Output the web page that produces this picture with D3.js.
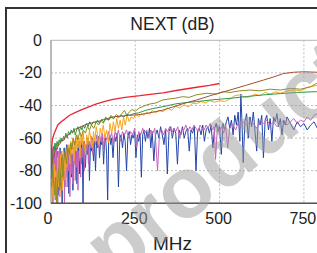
<!DOCTYPE html>
<html><head><meta charset="utf-8">
<script src="https://cdn.jsdelivr.net/npm/d3@7"></script>
<style>html,body{margin:0;padding:0;background:#fff;overflow:hidden}svg{display:block}</style>
</head><body>
<script>
const title = "NEXT (dB)";
const xLabel = "MHz";
const xTicks = [0, 250, 500, 750];
const yTicks = [0, -20, -40, -60, -80, -100];
const seriesNames = ["blue", "magenta", "orange", "olive", "green", "brown", "red"];
const seriesColors = ["#2446a8", "#c563b8", "#f9a41e", "#8c8c24", "#2a9a4a", "#9e5030", "#ec2630"];

const red = [[1,-78],[2,-66],[4,-61],[8,-58],[12,-56],[20,-52],[30,-50],[40,-48.5],[55,-46],[70,-44.5],[86,-43],[110,-41],[135,-39],[160,-37.5],[184,-36.3],[220,-35],[264,-34],[300,-33],[332,-32.2],[380,-30.5],[432,-28.8],[470,-27.6],[500,-26.5]];

const brown = [[1,-80],[3,-75],[6,-72],[10,-70],[14,-66],[18,-67],[22,-64],[27,-63.5],[32,-61],[37,-61.5],[42,-59],[48,-58.5],[54,-57.5],[60,-56.5],[66,-56],[72,-54.5],[80,-54],[88,-53],[95,-52.5],[105,-51.5],[115,-51],[125,-50.5],[135,-49.8],[145,-49.6],[155,-48.5],[165,-48.3],[175,-47.5],[185,-47],[200,-46.6],[215,-46.4],[230,-46],[254,-45.8],[280,-45],[305,-44],[332,-42.8],[360,-41],[390,-39],[432,-36.6],[480,-33.5],[531,-30.5],[580,-27.5],[630,-24.4],[660,-22.5],[689,-20.4],[720,-19.6],[750,-19.3],[788,-19.6],[800,-19.7]];

const green = [[1,-85],[3,-78],[5,-70],[7,-65],[9,-68],[12,-63],[15,-66],[18,-62],[21,-65],[24,-61],[27,-63],[30,-60],[33,-62],[37,-59],[40,-61],[44,-57],[48,-60],[52,-56],[56,-58],[60,-55],[64,-57],[68,-54],[72,-58],[76,-55],[80,-53],[84,-56],[88,-53],[92,-55],[96,-52],[100,-54],[105,-51],[110,-53],[115,-50],[120,-52],[126,-50],[132,-51],[138,-49],[144,-51],[150,-48.5],[157,-50],[164,-48],[171,-49],[178,-47],[185,-48],[192,-46.5],[200,-47.5],[208,-46],[216,-47],[225,-45.5],[234,-46],[245,-45],[260,-44.5],[280,-43],[300,-42],[332,-40.7],[370,-39],[400,-38.2],[432,-37.6],[480,-36.5],[531,-35.6],[580,-34.5],[630,-33.5],[680,-32.7],[729,-32],[788,-31.5],[800,-31.4]];

const olive = [[2,-90],[5,-80],[8,-88],[11,-95],[14,-84],[17,-100],[20,-88],[23,-78],[26,-92],[29,-80],[32,-72],[35,-84],[38,-74],[42,-68],[46,-76],[50,-66],[54,-70],[58,-63],[62,-67],[66,-60],[70,-64],[75,-58],[80,-61],[85,-56],[90,-59],[96,-55],[102,-57],[108,-53],[114,-55],[120,-52],[127,-54],[134,-50],[141,-52],[148,-49],[155,-51],[162,-47],[170,-49],[178,-46],[186,-48],[194,-45.5],[202,-47],[210,-45],[218,-43],[224,-46],[232,-44],[240,-42.5],[250,-43.5],[262,-41.5],[275,-40.5],[283,-39.7],[295,-39],[310,-38.5],[332,-36.6],[350,-36],[370,-35.5],[390,-34.6],[410,-35],[430,-33.5],[461,-32.5],[490,-33],[510,-31.5],[531,-32],[560,-31],[590,-30.5],[620,-31],[650,-30],[680,-30.5],[710,-29.5],[740,-30],[770,-28.5],[788,-26.4],[800,-26]];

const orange = [[2,-95],[4,-82],[6,-100],[8,-88],[10,-76],[12,-92],[14,-80],[16,-100],[18,-84],[20,-72],[22,-90],[24,-78],[26,-96],[28,-70],[30,-82],[32,-75],[34,-92],[36,-68],[38,-80],[40,-72],[42,-86],[44,-66],[47,-78],[50,-70],[53,-64],[56,-76],[59,-62],[62,-70],[65,-60],[68,-74],[71,-62],[74,-68],[77,-58],[80,-66],[83,-60],[86,-72],[89,-58],[92,-64],[95,-56],[98,-62],[102,-70],[106,-58],[110,-64],[114,-55],[118,-60],[122,-66],[126,-56],[130,-62],[134,-53],[138,-58],[142,-64],[146,-54],[150,-58],[155,-52],[160,-60],[165,-55],[170,-63],[175,-51],[180,-57],[185,-50],[190,-56],[195,-48],[200,-54],[205,-49],[210,-55],[215,-47],[220,-52],[226,-46],[232,-50],[238,-47],[245,-48],[252,-45],[260,-47],[268,-45],[276,-46],[284,-44],[292,-45.5],[300,-43],[310,-44.5],[320,-43],[332,-43.8],[345,-41.5],[358,-43],[370,-40.5],[382,-41.5],[395,-39.5],[408,-41],[420,-38.5],[432,-39],[445,-37.5],[458,-38.5],[470,-37],[485,-38],[500,-37],[515,-37.6],[531,-36],[545,-34],[560,-33.5],[575,-35],[590,-34.7],[605,-33],[620,-34],[635,-32],[650,-33],[665,-31.6],[680,-32.5],[700,-31],[720,-30.5],[740,-31],[760,-29],[780,-28],[800,-27.4]];

const blue = [[1,-72],[3,-85],[5,-100],[7,-78],[9,-92],[11,-70],[13,-98],[15,-76],[17,-88],[19,-68],[21,-95],[23,-74],[25,-84],[27,-66],[29,-90],[31,-72],[33,-100],[35,-70],[37,-82],[39,-66],[41,-90],[43,-72],[45,-78],[47,-64],[49,-86],[51,-70],[53,-94],[55,-68],[57,-76],[59,-63],[61,-84],[63,-70],[65,-92],[67,-66],[69,-74],[71,-62],[73,-80],[75,-68],[77,-88],[79,-64],[81,-72],[83,-62],[85,-82],[87,-66],[89,-76],[91,-61],[93,-70],[95,-100],[97,-66],[99,-62],[102,-78],[105,-64],[108,-70],[111,-60],[114,-86],[117,-64],[120,-68],[123,-60],[126,-74],[129,-62],[132,-80],[135,-62],[138,-66],[141,-59],[144,-72],[147,-62],[150,-64],[153,-58],[156,-76],[159,-62],[162,-60],[165,-70],[168,-98],[171,-62],[174,-58],[177,-64],[180,-60],[184,-72],[188,-58],[192,-62],[196,-57],[200,-90],[204,-60],[208,-58],[212,-66],[216,-57],[220,-62],[224,-80],[228,-59],[232,-56],[236,-64],[240,-58],[244,-60],[248,-56],[252,-72],[256,-58],[260,-62],[264,-57],[268,-84],[272,-58],[276,-55],[280,-62],[284,-56],[288,-60],[292,-54],[296,-66],[300,-56],[305,-74],[310,-58],[315,-55],[320,-60],[325,-53],[330,-58],[335,-64],[340,-55],[345,-82],[350,-56],[355,-53],[360,-60],[365,-54],[370,-57],[375,-76],[380,-55],[385,-58],[390,-53],[395,-60],[400,-56],[405,-54],[410,-68],[415,-55],[420,-57],[425,-53],[430,-80],[435,-55],[440,-54],[445,-58],[450,-52],[455,-62],[460,-55],[465,-53],[470,-57],[475,-52],[480,-66],[485,-54],[490,-51],[495,-56],[500,-53],[505,-70],[510,-51],[515,-55],[520,-50],[525,-47],[530,-54],[535,-49],[540,-58],[545,-46],[550,-52],[555,-44],[560,-62],[563,-33],[566,-48],[570,-75],[575,-50],[580,-45],[585,-60],[590,-47],[595,-53],[600,-44],[605,-56],[610,-68],[615,-48],[620,-52],[625,-46],[630,-72],[635,-49],[640,-46],[645,-55],[650,-48],[655,-62],[660,-47],[665,-50],[670,-45],[675,-53],[680,-48],[685,-58],[690,-49],[695,-52],[700,-47],[710,-51],[720,-55],[730,-50],[740,-53],[750,-51],[760,-55],[770,-52],[780,-50],[790,-54],[800,-53]];

const magenta = [[1,-64],[2,-88],[3,-70],[4,-96],[5,-66],[6,-82],[7,-100],[8,-68],[9,-90],[10,-72],[11,-84],[12,-64],[13,-98],[14,-74],[15,-86],[16,-66],[17,-92],[18,-70],[19,-80],[20,-100],[21,-68],[22,-88],[23,-74],[24,-84],[25,-66],[26,-96],[27,-72],[28,-82],[30,-68],[32,-92],[34,-74],[36,-86],[38,-70],[40,-100],[42,-72],[44,-84],[46,-68],[48,-90],[50,-70],[52,-80],[54,-66],[56,-96],[58,-72],[60,-82],[62,-68],[64,-88],[66,-70],[68,-76],[70,-64],[72,-86],[74,-68],[76,-78],[78,-64],[80,-92],[82,-68],[84,-74],[86,-62],[88,-84],[90,-66],[93,-72],[96,-62],[99,-80],[102,-64],[105,-68],[108,-60],[111,-76],[114,-62],[117,-66],[120,-59],[124,-70],[128,-60],[132,-64],[136,-58],[140,-66],[144,-58],[148,-62],[152,-57],[156,-68],[160,-58],[165,-61],[170,-56],[175,-60],[180,-57],[185,-64],[190,-56],[195,-59],[200,-55],[206,-62],[212,-56],[218,-58],[224,-55],[230,-60],[236,-56],[242,-58],[248,-54],[254,-66],[260,-56],[266,-58],[272,-54],[278,-57],[284,-55],[290,-60],[296,-55],[302,-57],[308,-54],[316,-80],[322,-56],[328,-55],[334,-58],[340,-54],[346,-56],[352,-53],[358,-57],[364,-54],[370,-56],[376,-53],[382,-60],[388,-54],[394,-55],[400,-52],[406,-56],[412,-53],[418,-55],[424,-52],[430,-54],[436,-56],[442,-52],[448,-54],[454,-55],[460,-52],[466,-54],[472,-51],[478,-55],[484,-53],[488,-73],[494,-52],[500,-56],[506,-53],[512,-57],[518,-52],[524,-66],[530,-54],[536,-51],[542,-53],[548,-55],[554,-51],[560,-53],[570,-50],[580,-52],[590,-50],[600,-51],[610,-54],[620,-50],[630,-51],[640,-49],[650,-52],[660,-50],[670,-53],[680,-51],[690,-49],[700,-52],[710,-50],[720,-48],[730,-51],[740,-49],[750,-50],[760,-47],[770,-49],[780,-46],[790,-45],[800,-45]];

const seriesData = [blue, magenta, orange, olive, green, brown, red];
const watermark = "product";

const W = 317, H = 253;
const svg = d3.select("body").append("svg").attr("width", W).attr("height", H);
const x = d3.scaleLinear().domain([0, 1000]).range([51, 388.2]);
const y = d3.scaleLinear().domain([-100, 0]).range([203.3, 40.3]);
const font = "'Liberation Sans', Arial, sans-serif";

// outer frame
svg.append("rect").attr("x", 6).attr("y", 8).attr("width", 400).attr("height", 300)
  .attr("fill", "#fff").attr("stroke", "#333").attr("stroke-width", 2);

// title
svg.append("text").attr("x", 172.5).attr("y", 30).attr("text-anchor", "middle")
  .attr("font-family", font).attr("font-size", 17.5).attr("fill", "#222").text(title);

// plot border
svg.append("rect").attr("x", x(0)).attr("y", y(0)).attr("width", x(1000) - x(0)).attr("height", y(-100) - y(0))
  .attr("fill", "none").attr("stroke", "#b4b4b4").attr("stroke-width", 1);

// gridlines
const g = svg.append("g");
g.selectAll("line.h").data(yTicks.filter(d => d > -100 && d < 0)).join("line")
  .attr("x1", x(0)).attr("x2", x(1000)).attr("y1", d => y(d)).attr("y2", d => y(d))
  .attr("stroke", "#bdbdbd").attr("stroke-dasharray", "2,2").attr("stroke-width", 1);
g.selectAll("line.v").data(xTicks.filter(d => d > 0)).join("line")
  .attr("y1", y(0)).attr("y2", y(-100)).attr("x1", d => x(d)).attr("x2", d => x(d))
  .attr("stroke", "#bdbdbd").attr("stroke-dasharray", "2,2").attr("stroke-width", 1);

// left axis line
svg.append("line").attr("x1", x(0)).attr("x2", x(0)).attr("y1", y(0)).attr("y2", y(-100))
  .attr("stroke", "#9a9a9a").attr("stroke-width", 1);

// series
svg.append("clipPath").attr("id", "clip").append("rect")
  .attr("x", x(0)).attr("y", y(0) - 2).attr("width", x(1000) - x(0)).attr("height", y(-100) - y(0) + 2);
const line = d3.line().x(d => x(d[0])).y(d => y(d[1]));
const lg = svg.append("g").attr("clip-path", "url(#clip)");
seriesData.forEach((s, i) => {
  lg.append("path").datum(s).attr("d", line).attr("fill", "none")
    .attr("stroke", seriesColors[i]).attr("stroke-width", i === 6 ? 1.3 : 1)
    .attr("stroke-linejoin", "round").attr("class", seriesNames[i]);
});

// bottom axis line
svg.append("line").attr("x1", x(0)).attr("x2", x(1000)).attr("y1", y(-100)).attr("y2", y(-100))
  .attr("stroke", "#555").attr("stroke-width", 1.6);

// y tick labels
svg.selectAll("text.yt").data(yTicks).join("text").attr("class", "yt")
  .attr("x", 42).attr("y", d => y(d) + 5.5).attr("text-anchor", "end")
  .attr("font-family", font).attr("font-size", 16).attr("fill", "#222").text(d => d);

// x tick labels
svg.selectAll("text.xt").data(xTicks).join("text").attr("class", "xt")
  .attr("x", d => x(d) - (d === 0 ? 3 : 1)).attr("y", 224).attr("text-anchor", "middle")
  .attr("font-family", font).attr("font-size", 16).attr("fill", "#222").text(d => d);

// x label
svg.append("text").attr("x", 172.5).attr("y", 250).attr("text-anchor", "middle")
  .attr("font-family", font).attr("font-size", 19).attr("fill", "#222").text(xLabel);

// watermark
svg.append("text").attr("transform", "translate(114,282) rotate(-39)")
  .attr("font-family", font).attr("font-weight", "bold").attr("font-size", 86)
  .attr("fill", "#9a9a9a").attr("fill-opacity", 0.5).text(watermark);
</script>
</body></html>
